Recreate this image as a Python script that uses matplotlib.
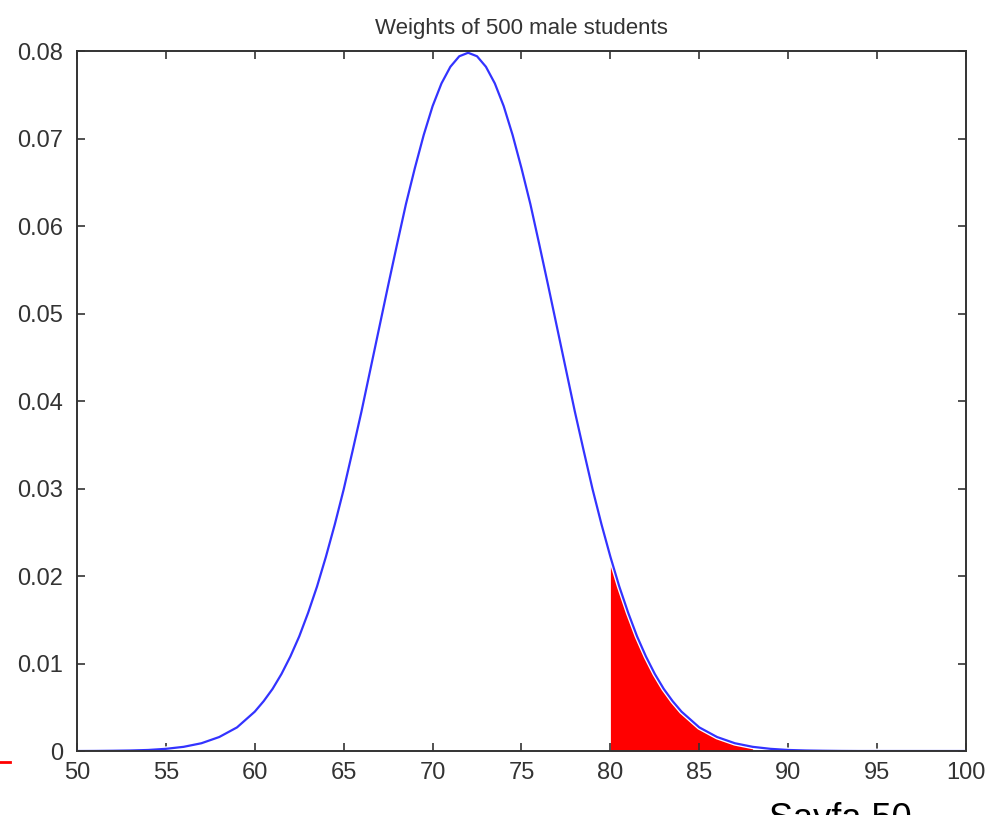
import matplotlib
matplotlib.use('Agg')
from matplotlib import pyplot as plt
import matplotlib.patheffects as pe
import numpy as np

# curve (integer weights at the tails, half steps in the middle)
weights = [
    50, 51, 52, 53, 54, 55, 56, 57, 58, 59,
    60, 60.5, 61, 61.5, 62, 62.5, 63, 63.5, 64, 64.5, 65, 65.5, 66, 66.5,
    67, 67.5, 68, 68.5, 69, 69.5, 70, 70.5, 71, 71.5, 72, 72.5, 73, 73.5,
    74, 74.5, 75, 75.5, 76, 76.5, 77, 77.5, 78, 78.5, 79, 79.5, 80, 80.5,
    81, 81.5, 82, 82.5, 83, 83.5, 84,
    85, 86, 87, 88, 89, 90, 91, 92, 93, 94, 95, 96, 97, 98, 99, 100,
]
density = [
    0.0, 0.00001, 0.00003, 0.00006, 0.00012, 0.00025, 0.00048, 0.00089, 0.0016, 0.0027,
    0.0045, 0.0057, 0.0071, 0.0088, 0.0108, 0.0131, 0.0158, 0.0188, 0.0222, 0.0259,
    0.0299, 0.0343, 0.0388, 0.0436, 0.0484, 0.0532, 0.0579, 0.0625, 0.0666, 0.0704,
    0.0737, 0.0763, 0.0782, 0.0794, 0.0798, 0.0794, 0.0782, 0.0763, 0.0737, 0.0704,
    0.0666, 0.0625, 0.0579, 0.0532, 0.0484, 0.0436, 0.0388, 0.0343, 0.0299, 0.0259,
    0.0222, 0.0188, 0.0158, 0.0131, 0.0108, 0.0088, 0.0071, 0.0057, 0.0045,
    0.0027, 0.0016, 0.00089, 0.00048, 0.00025, 0.00012, 0.00006, 0.00003, 0.00001,
    0.0, 0.0, 0.0, 0.0, 0.0, 0.0, 0.0,
]
weights = np.array(weights)
density = np.array(density)
shade_from, shade_to = 80, 88
title = 'Weights of 500 male students'
xticks = np.arange(50, 101, 5)
yticks = [0, 0.01, 0.02, 0.03, 0.04, 0.05, 0.06, 0.07, 0.08]
ylabels = ['0', '0.01', '0.02', '0.03', '0.04', '0.05', '0.06', '0.07', '0.08']

plt.rcParams['font.family'] = ['Liberation Sans', 'DejaVu Sans']

fig = plt.figure(figsize=(9.92, 8.15), dpi=100)
ax = fig.add_axes([0.0776, 0.0785, 0.8962, 0.8589])

sel = (weights >= shade_from) & (weights <= shade_to)
ax.fill_between(weights[sel], 0, density[sel] * 0.97, color='red', lw=0)
ax.plot(weights, density, color='#3333ff', lw=1.6,
        path_effects=[pe.Stroke(linewidth=3.5, foreground='white'), pe.Normal()])

ax.set_xlim(50, 100)
ax.set_ylim(0, 0.08)
ax.set_xticks(xticks)
ax.set_yticks(yticks)
ax.set_yticklabels(ylabels)
ax.tick_params(direction='in', top=True, right=True, length=6, width=1.2,
               labelsize=17, colors='#333333', labelcolor='#333333')
ax.tick_params(axis='y', pad=10)
ax.tick_params(axis='x', pad=8)
for s in ax.spines.values():
    s.set_linewidth(1.4)
    s.set_color('#333333')
ax.set_title(title, fontsize=16, color='#333333', pad=12)

# slide leftovers
fig.add_artist(plt.Line2D([0, 10 / 992], [53 / 815, 53 / 815], color='red', lw=2))
fig.text(840 / 992, -0.0172, 'Sayfa 50', fontsize=26, ha='center', va='baseline', color='black')

fig.savefig('out.png', dpi=100)
